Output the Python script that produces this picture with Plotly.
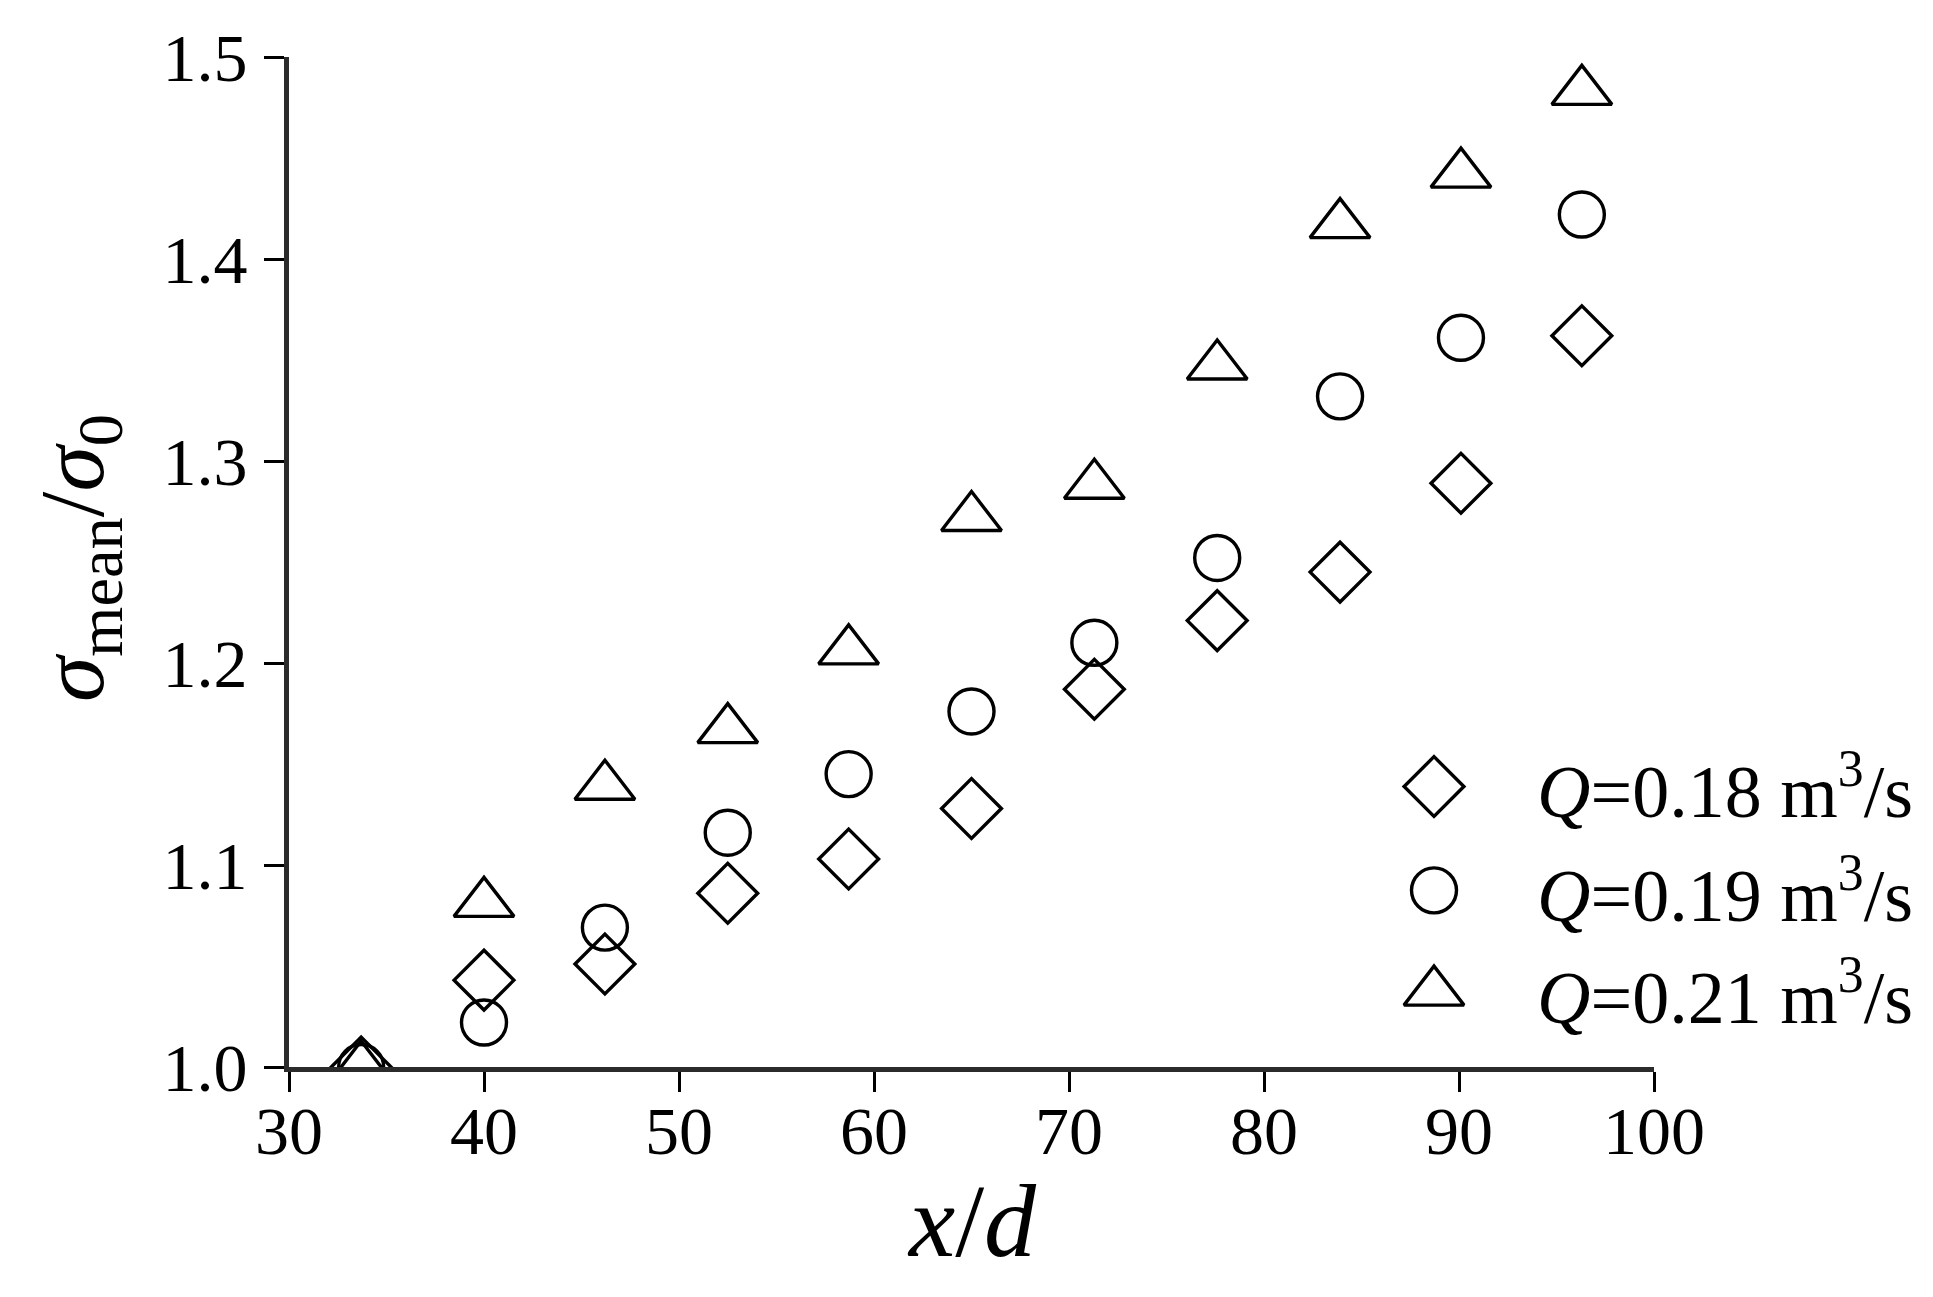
import plotly.graph_objects as go

# x/d positions
x_d = [33.7, 40.0, 46.2, 52.5, 58.7, 65.0, 71.3, 77.6, 83.9, 90.1, 96.3]

# sigma_mean / sigma_0 for each flow rate
q018 = [1.000, 1.043, 1.051, 1.086, 1.103, 1.128, 1.187, 1.221, 1.245, 1.289, 1.362]
q019 = [1.000, 1.022, 1.069, 1.116, 1.145, 1.176, 1.210, 1.252, 1.332, 1.361, 1.422]
q021 = [1.000, 1.081, 1.139, 1.167, 1.206, 1.272, 1.288, 1.347, 1.417, 1.442, 1.483]

series_names = ["<i>Q</i>=0.18 m<sup>3</sup>/s",
                "<i>Q</i>=0.19 m<sup>3</sup>/s",
                "<i>Q</i>=0.21 m<sup>3</sup>/s"]
symbols = ["diamond-open", "circle-open", "triangle-up-open"]
sizes = [46, 45, 52]

x_ticks = [30, 40, 50, 60, 70, 80, 90, 100]
y_ticks = [1.0, 1.1, 1.2, 1.3, 1.4, 1.5]

FONT = "Liberation Serif"
W, H = 1933, 1297
OFF = 8  # page body margin

# plot area in figure pixels
plot_l, plot_r, plot_t, plot_b = 281, 1646, 47, 1059


def px(sx):
    # screen x -> paper x
    return (sx - OFF - plot_l) / (plot_r - plot_l)


def py(sy):
    # screen y -> paper y
    return (plot_b - (sy - OFF)) / (plot_b - plot_t)


fig = go.Figure()

for y_vals, sym, sz, nm in zip([q018, q019, q021], symbols, sizes, series_names):
    fig.add_trace(go.Scatter(
        x=x_d, y=y_vals, mode="markers", name=nm,
        marker=dict(symbol=sym, size=sz, color="black", line=dict(width=3.4, color="black")),
        cliponaxis=True, showlegend=False
    ))

# hand-made legend on an overlay axis measured in figure pixels
leg_x = [1426, 1426, 1426]
leg_y = [778, 882, 984]
for lx, ly, sym, sz in zip(leg_x, leg_y, symbols, sizes):
    fig.add_trace(go.Scatter(
        x=[lx], y=[ly], xaxis="x2", yaxis="y2", mode="markers",
        marker=dict(symbol=sym, size=sz, color="black", line=dict(width=3.4, color="black")),
        cliponaxis=False, showlegend=False, hoverinfo="skip"
    ))

annotations = []
for ly, nm in zip(leg_y, series_names):
    annotations.append(dict(
        text=nm, xref="paper", yref="paper",
        x=px(1535), y=py(ly + OFF),
        xanchor="left", yanchor="middle", showarrow=False,
        font=dict(family=FONT, size=74, color="black")
    ))

# axis titles
annotations.append(dict(
    text="<i>x</i>/<i>d</i>", xref="paper", yref="paper",
    x=0.5, y=py(1221), xanchor="center", yanchor="middle",
    showarrow=False, font=dict(family=FONT, size=104, color="black")
))
annotations.append(dict(
    text="<i>σ</i><sub>mean</sub>/<i>σ</i><sub>0</sub>", xref="paper", yref="paper",
    x=px(78), y=py(557), xanchor="center", yanchor="middle",
    textangle=-90, showarrow=False, font=dict(family=FONT, size=92, color="black")
))

fig.update_layout(
    width=W, height=H,
    template="simple_white",
    paper_bgcolor="white", plot_bgcolor="white",
    margin=dict(l=plot_l, r=W - plot_r, t=plot_t, b=H - plot_b),
    font=dict(family=FONT, size=68, color="black"),
    xaxis=dict(
        range=[30, 100], tickvals=x_ticks, ticktext=[str(v) for v in x_ticks],
        showline=True, linewidth=5, linecolor="#2b2b2b", mirror=False,
        ticks="outside", ticklen=20, tickwidth=3, tickcolor="black",
        ticklabelstandoff=-20,
        showgrid=False, zeroline=False,
        tickfont=dict(family=FONT, size=68, color="black")
    ),
    yaxis=dict(
        range=[1.0, 1.5], tickvals=y_ticks, ticktext=[f"{v:.1f}" for v in y_ticks],
        showline=True, linewidth=5, linecolor="#2b2b2b", mirror=False,
        ticks="outside", ticklen=20, tickwidth=3, tickcolor="black",
        ticklabelstandoff=3,
        showgrid=False, zeroline=False,
        tickfont=dict(family=FONT, size=68, color="black")
    ),
    xaxis2=dict(range=[plot_l, plot_r], overlaying="x", anchor="y2", visible=False, fixedrange=True),
    yaxis2=dict(range=[plot_b, plot_t], overlaying="y", anchor="x2", visible=False, fixedrange=True),
    annotations=annotations,
    showlegend=False
)

fig.write_html("out.html")
